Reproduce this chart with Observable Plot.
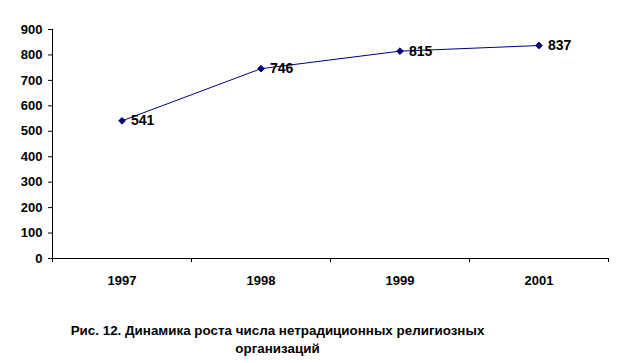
<!DOCTYPE html>
<html>
<head>
<meta charset="utf-8">
<script src="https://cdn.jsdelivr.net/npm/d3@7"></script>
<script src="https://cdn.jsdelivr.net/npm/@observablehq/plot@0.6"></script>
<style>
  body { margin: 0; background: #fff; }
  #chart { width: 624px; }
  .caption { font-family: "Liberation Sans", Arial, sans-serif; font-weight: bold; font-size: 13.4px; color: #000; text-align: center; width: 555px; line-height: 18px; margin-top: 22px; }
</style>
</head>
<body>
<div id="chart"></div>
<script>
const years = ["1997", "1998", "1999", "2001"];
const values = [541, 746, 815, 837];
const yTicks = [0, 100, 200, 300, 400, 500, 600, 700, 800, 900];
const captionLines = ["Рис. 12. Динамика роста числа нетрадиционных религиозных", "организаций"];

const data = years.map((year, i) => ({ i, year, value: values[i] }));
const centers = years.map((_, i) => i);
const bounds = years.map((_, i) => i - 0.5).concat([years.length - 0.5]);

const navy = "#000080";
const plot = Plot.plot({
  width: 624,
  height: 300,
  marginLeft: 52,
  marginRight: 16,
  marginTop: 29,
  marginBottom: 42,
  style: { fontFamily: "'Liberation Sans', Arial, sans-serif", fontWeight: "bold", fontSize: "13px", color: "#000", background: "#fff" },
  x: { type: "linear", domain: [-0.5, years.length - 0.5] },
  y: { domain: [0, 900] },
  marks: [
    Plot.axisY({ ticks: yTicks, tickSize: 4, tickPadding: 6, label: null, fontSize: 13 }),
    Plot.axisX({ ticks: centers, tickSize: 0, tickPadding: 17, tickFormat: (i) => years[i], label: null, fontSize: 13 }),
    Plot.axisX({ ticks: bounds, tickSize: 4, tickFormat: () => "", label: null }),
    Plot.ruleY([0], { stroke: "#000" }),
    Plot.ruleX([-0.5], { y1: 0, y2: 900, stroke: "#000" }),
    Plot.line(data, { x: "i", y: "value", stroke: navy, strokeWidth: 1 }),
    Plot.dot(data, { x: "i", y: "value", symbol: "diamond2", r: 3, fill: navy, stroke: navy, strokeWidth: 1 }),
    Plot.text(data, { x: "i", y: "value", text: (d) => String(d.value), textAnchor: "start", dx: 9, fontSize: 14, fontWeight: "bold", fill: "#000" })
  ]
});
document.getElementById("chart").appendChild(plot);
const cap = document.createElement("div");
cap.className = "caption";
cap.innerHTML = captionLines.join("<br>");
document.body.appendChild(cap);
</script>
</body>
</html>
